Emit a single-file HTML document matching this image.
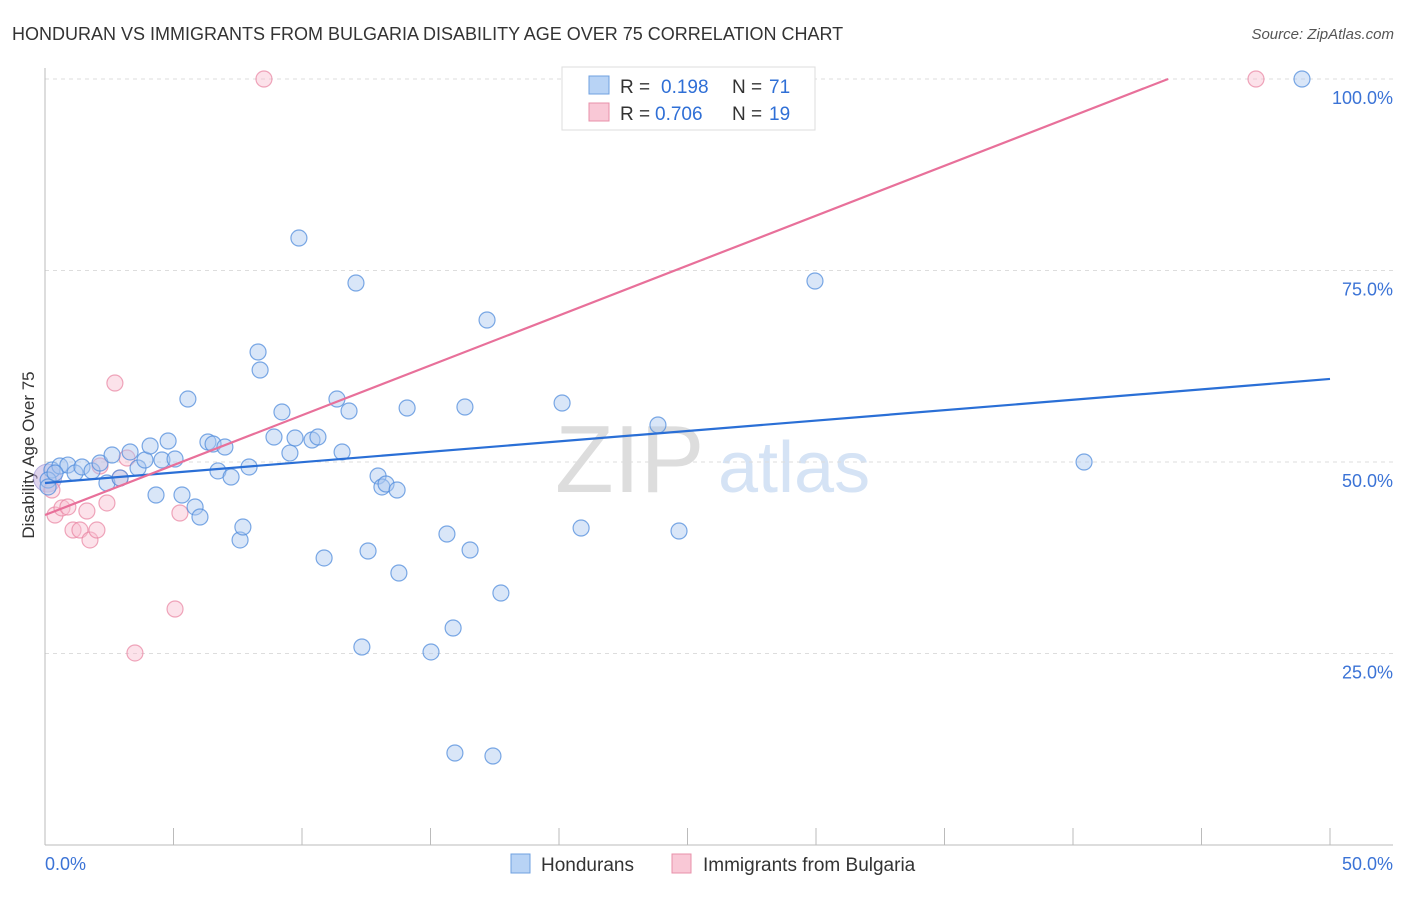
<!DOCTYPE html>
<html><head><meta charset="utf-8"><style>
body{margin:0;background:#fff;font-family:"Liberation Sans",sans-serif}
svg text{font-family:"Liberation Sans",sans-serif}
</style></head><body>
<svg width="1406" height="892">
<text x="12" y="40" font-size="18" fill="#333">HONDURAN VS IMMIGRANTS FROM BULGARIA DISABILITY AGE OVER 75 CORRELATION CHART</text>
<text x="1394" y="39" font-size="15" fill="#555" text-anchor="end" font-style="italic">Source: ZipAtlas.com</text>
<text x="555" y="492" font-size="96" fill="#ddd" font-family="Liberation Serif">ZIP</text>
<text x="718" y="492" font-size="72" fill="#d5e3f5">atlas</text>
<g id="grid"></g>
<g id="axes"></g>
<text x="34" y="455" font-size="17" fill="#333" text-anchor="middle" transform="rotate(-90 34 455)">Disability Age Over 75</text>
<g id="pts"></g>
<g id="lines"></g>
<g>
<rect x="562" y="67" width="253" height="63" fill="#fff" stroke="#ddd"/>
<rect x="589" y="76" width="20" height="18" fill="#b8d3f5" stroke="#6fa0e0"/>
<rect x="589" y="103" width="20" height="18" fill="#f9c8d6" stroke="#e890aa"/>
<text x="620" y="93" font-size="19" fill="#333">R = </text><text x="661" y="93" font-size="19" fill="#2f6fd6">0.198</text>
<text x="732" y="93" font-size="19" fill="#333">N = </text><text x="769" y="93" font-size="19" fill="#2f6fd6">71</text>
<text x="620" y="120" font-size="19" fill="#333">R = </text><text x="655" y="120" font-size="19" fill="#2f6fd6">0.706</text>
<text x="732" y="120" font-size="19" fill="#333">N = </text><text x="769" y="120" font-size="19" fill="#2f6fd6">19</text>
</g>
<g>
<rect x="511" y="854" width="19" height="19" fill="#b8d3f5" stroke="#6fa0e0"/>
<text x="541" y="871" font-size="19" fill="#333">Hondurans</text>
<rect x="672" y="854" width="19" height="19" fill="#f9c8d6" stroke="#e890aa"/>
<text x="703" y="871" font-size="19" fill="#333">Immigrants from Bulgaria</text>
</g>
</svg>
<script>
const yTicks=[25,50,75,100];
const yTickLabels=["25.0%","50.0%","75.0%","100.0%"];
const blueX=[0.27,0.58,0.89,1.17,1.44,1.83,2.14,2.41,2.61,2.92,3.31,3.62,3.89,4.09,4.32,4.55,4.79,5.06,5.33,5.56,5.84,6.03,6.34,6.54,6.73,7.0,7.24,7.59,7.7,7.94,8.29,8.37,8.91,9.22,9.53,9.73,9.88,10.39,10.62,11.36,11.56,11.83,12.1,12.33,12.57,12.96,13.11,13.27,13.7,13.77,14.09,15.02,15.64,15.88,15.95,16.34,16.54,17.2,17.43,17.74,20.12,20.86,23.85,24.67,29.96,40.43,48.91,10.86,0.12,0.39,0.12];
const blueY=[48.96,49.48,49.6,48.56,49.35,48.83,49.87,47.26,50.91,47.91,51.31,49.22,50.26,52.09,45.69,50.26,52.74,50.39,45.69,58.22,44.13,42.82,52.61,52.35,48.83,51.96,48.04,39.82,41.51,49.35,64.36,62.01,53.26,56.53,51.17,53.13,79.24,52.87,53.26,58.22,51.31,56.66,73.37,25.85,38.38,48.17,46.74,47.13,46.34,35.51,57.05,25.2,40.6,28.33,12.01,57.18,38.51,68.54,11.62,32.9,57.7,41.38,54.83,40.99,73.63,50.0,100,37.47,47.65,48.56,46.74];
const pinkX=[0.27,0.39,0.66,0.89,1.09,1.36,1.63,1.75,2.02,2.14,2.41,2.72,2.92,3.19,3.5,5.06,5.25,8.52,47.12];
const pinkY=[46.34,43.08,44.0,44.13,41.12,41.12,43.6,39.82,41.12,49.48,44.65,60.31,47.91,50.52,25.07,30.81,43.34,100,100];
const blueFit=[47.26,60.84];
const pinkFit=[43.08,1.3025];
const NS="http://www.w3.org/2000/svg";
const X=v=>45+v/50*1285, Y=v=>845-v/100*766;
function mk(tag,attrs,parent){const e=document.createElementNS(NS,tag);for(const k in attrs)e.setAttribute(k,attrs[k]);document.getElementById(parent).appendChild(e);return e;}
yTicks.forEach((t,i)=>{
 const l=mk('line',{x1:45,x2:1393,y1:Y(t),y2:Y(t),stroke:'#ddd','stroke-dasharray':'4,4'},'grid');
 
 
 const tx=mk('text',{x:1393,y:Y(t)+25,'font-size':18,fill:'#3b73d6','text-anchor':'end'},'grid');
 tx.textContent=yTickLabels[i];
 
 
});
mk('line',{x1:45,x2:45,y1:68,y2:845,stroke:'#bbb'},'axes');
mk('line',{x1:45,x2:1393,y1:845,y2:845,stroke:'#bbb'},'axes');
for(let i=0;i<=10;i++){const t=mk('line',{x1:X(i*5),x2:X(i*5),y1:828,y2:845,stroke:'#bbb'},'axes');
 
 }
const x0=mk('text',{x:45,y:870,'font-size':18,fill:'#3b73d6'},'axes');x0.textContent='0.0%';


const x1=mk('text',{x:1393,y:870,'font-size':18,fill:'#3b73d6','text-anchor':'end'},'axes');x1.textContent='50.0%';


const big=mk('circle',{cx:X(0.1),cy:Y(47.9),r:14,fill:'rgba(190,170,220,0.5)',stroke:'rgba(150,140,210,0.6)'},'pts');


pinkX.forEach((v,i)=>{const c=mk('circle',{cx:X(v),cy:Y(pinkY[i]),r:8,fill:'rgba(249,190,208,0.45)',stroke:'rgba(232,130,160,0.7)','stroke-width':1.2},'pts');
 
 });
blueX.forEach((v,i)=>{const c=mk('circle',{cx:X(v),cy:Y(blueY[i]),r:8,fill:'rgba(170,200,240,0.45)',stroke:'rgba(80,140,220,0.75)','stroke-width':1.2},'pts');
 
 });
const bl=mk('line',{x1:X(0),y1:Y(blueFit[0]),x2:X(50),y2:Y(blueFit[1]),stroke:'#2a6fd6','stroke-width':2.2},'lines');


const xe=(100-pinkFit[0])/pinkFit[1];
const pl=mk('line',{x1:X(0),y1:Y(pinkFit[0]),x2:X(xe),y2:Y(100),stroke:'#e8709a','stroke-width':2.2},'lines');


</script>
</body></html>
